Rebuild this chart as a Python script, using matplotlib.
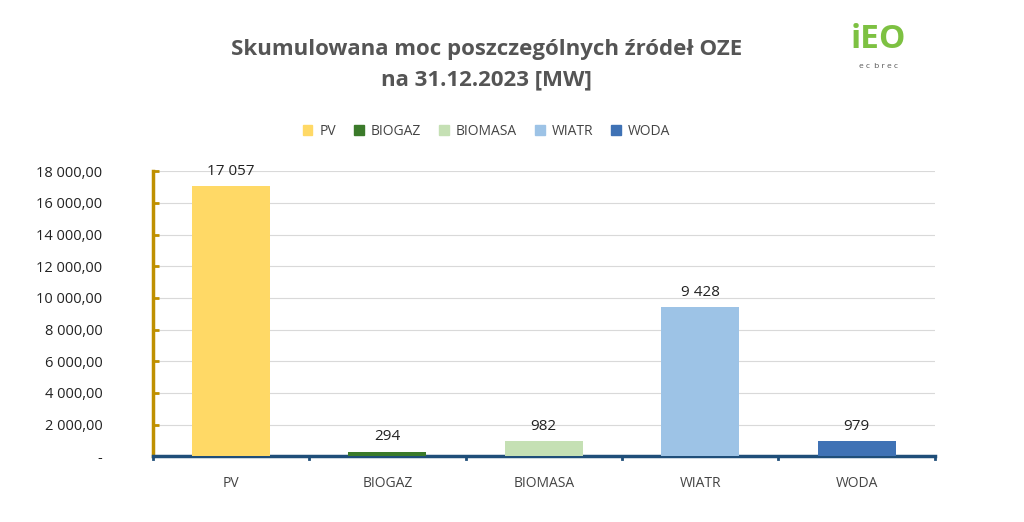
import matplotlib.pyplot as plt
from matplotlib.patches import Patch

plt.rcParams['font.family'] = ['Open Sans', 'DejaVu Sans']

kategorie = ['PV', 'BIOGAZ', 'BIOMASA', 'WIATR', 'WODA']
moc = [17057, 294, 982, 9428, 979]
etykiety = ['17 057', '294', '982', '9 428', '979']
kolory = ['#FFD966', '#3B7A2A', '#C5E0B4', '#9DC3E6', '#3F72B5']
yticks = list(range(0, 18001, 2000))


def fmt(v):
    if v == 0:
        return '-'
    return f'{v:,.2f}'.replace(',', ' ').replace('.', ',')


fig = plt.figure(figsize=(10.24, 5.22), dpi=100)
ax = fig.add_axes([0.149, 0.126, 0.764, 0.546])

x = range(len(kategorie))
ax.bar(x, moc, width=0.5, color=kolory, zorder=3)
for i, (v, t) in enumerate(zip(moc, etykiety)):
    ax.text(i, v + 450, t, ha='center', va='bottom', fontsize=11, color='#222222')

ax.set_xlim(-0.5, 4.5)
ax.set_ylim(0, 18000)
ax.set_yticks(yticks)
ax.set_yticklabels([fmt(v) for v in yticks], fontsize=10.5, color='#222222')
ax.set_xticks(list(x))
ax.set_xticklabels(kategorie, fontsize=10, color='#444444')
ax.grid(axis='y', color='#d9d9d9', lw=0.8, zorder=0)
ax.set_axisbelow(True)
for s in ['top', 'right']:
    ax.spines[s].set_visible(False)
ax.spines['left'].set_color('#BF9000')
ax.spines['left'].set_linewidth(2.5)
ax.spines['bottom'].set_color('#1F4E79')
ax.spines['bottom'].set_linewidth(2.5)
ax.tick_params(axis='y', length=4, width=2, color='#BF9000', direction='in', pad=36)
ax.tick_params(axis='x', length=0, pad=14)
for xb in [-0.5, 0.5, 1.5, 2.5, 3.5, 4.5]:
    ax.plot([xb, xb], [0, -200], color='#1F4E79', lw=2, clip_on=False, zorder=4)

fig.text(0.475, 0.876, 'Skumulowana moc poszczególnych źródeł OZE\nna 31.12.2023 [MW]',
         ha='center', va='center', fontsize=16, fontweight='bold', color='#555555',
         linespacing=1.6)

uchwyty = [Patch(color=c) for c in kolory]
fig.legend(uchwyty, kategorie, loc='center', bbox_to_anchor=(0.475, 0.749), ncol=5,
           frameon=False, fontsize=10, handlelength=0.7, handleheight=0.7,
           handletextpad=0.5, columnspacing=1.3, labelcolor='#444444')

# logo
fig.text(0.858, 0.925, 'iEO', fontsize=24, fontweight='bold', color='#7DC142',
         ha='center', va='center')
fig.text(0.858, 0.872, 'e c  b r e c', fontsize=6, color='#555555', ha='center', va='center')

fig.savefig('out.png', dpi=100)
